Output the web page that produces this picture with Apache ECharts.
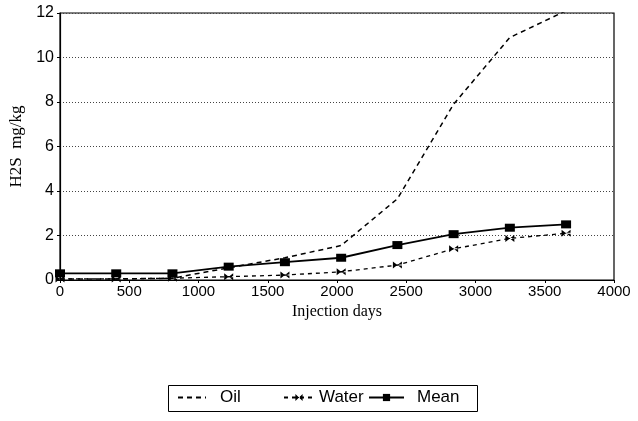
<!DOCTYPE html>
<html>
<head>
<meta charset="utf-8">
<script src="https://cdn.jsdelivr.net/npm/echarts@6/dist/echarts.min.js"></script>
<style>
  html, body { margin: 0; padding: 0; background: #fff; }
  #chart { width: 638px; height: 421px; }
</style>
</head>
<body>
<div id="chart"></div>
<script>
// Injection days at each sampling point
const days = [0, 406, 812, 1218, 1624, 2030, 2436, 2842, 3248, 3654];
// H2S concentration, mg/kg
const oil = [0.05, 0.05, 0.08, 0.55, 1.0, 1.55, 3.65, 7.9, 10.9, 12.1];
const water = [0.05, 0.05, 0.08, 0.15, 0.22, 0.37, 0.67, 1.4, 1.87, 2.1];
const mean = [0.3, 0.3, 0.3, 0.6, 0.8, 1.0, 1.57, 2.06, 2.35, 2.5];
const yTicks = [0, 2, 4, 6, 8, 10, 12];
const xTicks = [0, 500, 1000, 1500, 2000, 2500, 3000, 3500, 4000];

const pairs = (xs, ys) => xs.map((x, i) => [x, ys[i]]);

const sans = '"Liberation Sans", Arial, sans-serif';
const serif = '"Liberation Serif", "Times New Roman", serif';
// bow-tie marker with a bar through the middle
const starPath = 'path://M0,0L5,5L0,10ZM10,0L5,5L10,10ZM0,4.3L10,4.3L10,5.7L0,5.7Z';

const chart = echarts.init(document.getElementById('chart'), null, { renderer: 'canvas' });

function legendItem(name, left, width, gap, extra) {
  return Object.assign({
    top: 389,
    left: left,
    data: [name],
    itemWidth: width,
    itemHeight: 9,
    padding: 0,
    itemGap: 0,
    selectedMode: false,
    textStyle: { fontFamily: sans, fontSize: 17, color: '#000', padding: [0, 0, 0, gap] }
  }, extra || {});
}

chart.setOption({
  animation: false,
  backgroundColor: '#fff',
  grid: {
    left: 60, right: 24, top: 13, bottom: 141,
    show: true, borderColor: '#000', borderWidth: 1.2,
    containLabel: false
  },
  xAxis: {
    type: 'value',
    min: xTicks[0], max: xTicks[xTicks.length - 1], interval: 500,
    name: 'Injection days',
    nameLocation: 'middle',
    nameGap: 17,
    nameTextStyle: { fontFamily: serif, fontSize: 16, color: '#000' },
    axisLine: { show: true, lineStyle: { color: '#000', width: 1.2 } },
    axisTick: { show: true, length: 3, lineStyle: { color: '#000' } },
    axisLabel: { fontFamily: sans, fontSize: 15, color: '#000', margin: 4, formatter: v => String(v) },
    splitLine: { show: false }
  },
  yAxis: {
    type: 'value',
    min: yTicks[0], max: yTicks[yTicks.length - 1], interval: 2,
    name: 'H2S  mg/kg',
    nameLocation: 'middle',
    nameGap: 27,
    nameRotate: 90,
    nameTextStyle: { fontFamily: serif, fontSize: 17, color: '#000' },
    axisLine: { show: true, lineStyle: { color: '#000', width: 1.2 } },
    axisTick: { show: true, length: 3, lineStyle: { color: '#000' } },
    axisLabel: { fontFamily: sans, fontSize: 16, color: '#000', margin: 6 },
    splitLine: { show: true, lineStyle: { color: '#444', type: [1, 2], width: 1 } }
  },
  legend: [
    legendItem('Oil', 177, 28, 9, { itemStyle: { opacity: 0 } }),
    legendItem('Water', 283, 30, 0),
    legendItem('Mean', 368, 35, 8)
  ],
  graphic: [{
    type: 'rect',
    left: 166, top: 383,
    shape: { width: 309, height: 26 },
    style: { fill: 'none', stroke: '#000', lineWidth: 1 },
    silent: true
  }],
  series: [
    {
      name: 'Oil',
      type: 'line',
      data: pairs(days, oil),
      symbol: 'none',
      lineStyle: { color: '#000', width: 1.5, type: [5, 4] },
      itemStyle: { color: '#000' },
      z: 3
    },
    {
      name: 'Water',
      type: 'line',
      data: pairs(days, water),
      symbol: starPath,
      symbolSize: [9, 7],
      lineStyle: { color: '#000', width: 1.3, type: [4, 4] },
      itemStyle: { color: '#000' },
      z: 4
    },
    {
      name: 'Mean',
      type: 'line',
      data: pairs(days, mean),
      symbol: 'rect',
      symbolSize: [10, 8],
      lineStyle: { color: '#000', width: 1.8, type: 'solid' },
      itemStyle: { color: '#000' },
      z: 5
    }
  ]
});
</script>
</body>
</html>
